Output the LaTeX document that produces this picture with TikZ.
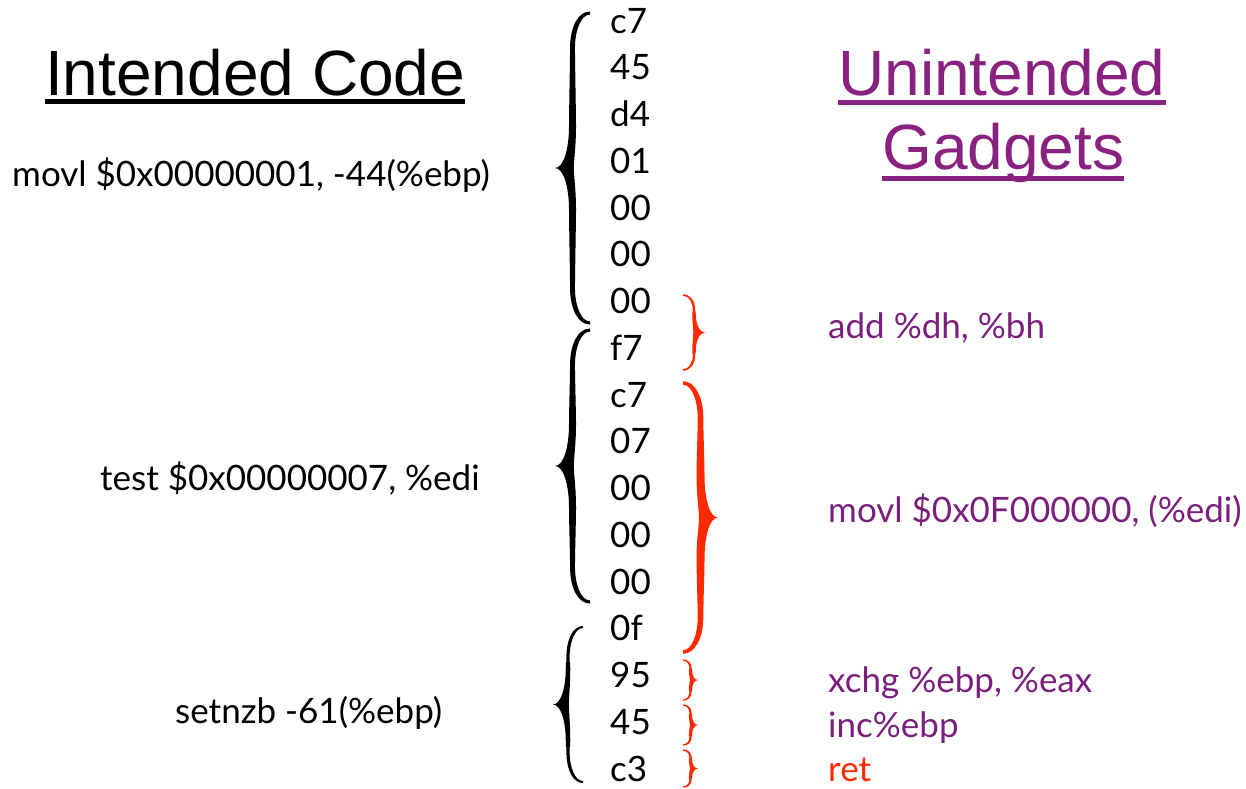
\documentclass[tikz,border=0pt]{standalone}
\usepackage{fontspec}
\setmainfont{Lato}
\newfontfamily\titlefont{Liberation Sans}
\usetikzlibrary{calc}
\definecolor{gadget}{HTML}{7A1F7E}
\definecolor{gadgettitle}{HTML}{88217F}
\definecolor{retred}{HTML}{FF2A00}
% A tapered curly brace "}" hanging from its top end:
% #1 height, #2 amplitude (tip distance), #3 stem thickness
\tikzset{
  pics/tbrace/.style n args={3}{code={
    \pgfmathsetmacro\bh{#1}\pgfmathsetmacro\ba{#2}\pgfmathsetmacro\bt{#3}
    \pgfmathsetmacro\bm{\bh/2}
    \pgfmathsetmacro\bs{\ba/2}
    \pgfmathsetmacro\br{min(1.0*\ba,\bh/5)}
    \pgfmathsetmacro\bq{min(1.2*\ba,\bh/4)}
    \pgfmathsetmacro\be{0.22*\bt}
    \pgfmathsetmacro\bi{0.35*\bt}
    \pgfmathsetmacro\bo{0.5*\bt}
    \pgfmathsetmacro\bb{0.3*\bt}
    \fill (0,-\be) .. controls (0.6*\bs+0.6*\bi,-\be) and (\bs+\bi,0.4*\br) .. (\bs+\bi,\br)
      .. controls (\bs+\bi,\br+0.3*\bq) and (\bs+\bo,\bm-1.3*\bq) .. (\bs+\bo,\bm-\bq)
      .. controls (\bs+\bo,\bm-0.45*\bq) and (\ba-0.55*\bs+0.3*\bo,\bm) .. (\ba,\bm)
      .. controls (\ba-0.55*\bs+0.3*\bo,\bm) and (\bs+\bo,\bm+0.45*\bq) .. (\bs+\bo,\bm+\bq)
      .. controls (\bs+\bo,\bm+1.3*\bq) and (\bs+\bi,\bh-\br-0.3*\bq) .. (\bs+\bi,\bh-\br)
      .. controls (\bs+\bi,\bh-0.4*\br) and (0.6*\bs+0.6*\bi,\bh+\be) .. (0,\bh+\be)
      -- (0,\bh-\be)
      .. controls (0.6*\bs-0.6*\bi,\bh-\be) and (\bs-\bi,\bh-0.5*\br) .. (\bs-\bi,\bh-\br)
      .. controls (\bs-\bi,\bh-\br-0.3*\bq) and (\bs-\bo,\bm+1.3*\bq) .. (\bs-\bo,\bm+\bq)
      .. controls (\bs-\bo,\bm+0.5*\bq) and (\bs-\bo+\bb,\bm+0.25*\bq) .. (\bs-\bo+\bb,\bm)
      .. controls (\bs-\bo+\bb,\bm-0.25*\bq) and (\bs-\bo,\bm-0.5*\bq) .. (\bs-\bo,\bm-\bq)
      .. controls (\bs-\bo,\bm-1.3*\bq) and (\bs-\bi,\br+0.3*\bq) .. (\bs-\bi,\br)
      .. controls (\bs-\bi,0.5*\br) and (0.6*\bs-0.6*\bi,\be) .. (0,\be)
      -- cycle;
  }}
}
\begin{document}
\begin{tikzpicture}[x=1pt,y=-1pt,
  txt/.style={anchor=base west, inner sep=0pt, font=\fontsize{35}{40}\selectfont},
  byte/.style={txt},
  asm/.style={txt},
  gad/.style={txt, text=gadget},
  heading/.style={anchor=base west, inner sep=0pt, font=\titlefont\fontsize{64}{72}\selectfont},
  ul/.style={line width=5pt},
]
\useasboundingbox (0,0) rectangle (1246,788);

% headings
\node[heading] (h1) at (45,95) {Intended Code};
\node[heading, text=gadgettitle] (h2) at (838,95) {Unintended};
\node[heading, text=gadgettitle] (h3) at (882,169) {Gadgets};
\draw[ul] ($(h1.base west)+(0,6)$) -- ($(h1.base east)+(0,6)$);
\draw[ul, gadgettitle] ($(h2.base west)+(0,7)$) -- ($(h2.base east)+(0,7)$);
\draw[ul, gadgettitle] ($(h3.base west)+(0,9)$) -- ($(h3.base east)+(0,9)$);

% byte column
\foreach \b [count=\i from 0] in {c7,45,d4,01,00,00,00,f7,c7,07,00,00,00,0f,95,45,c3}
  \node[byte] (b\i) at (610,33+46.75*\i) {\b};

% intended instructions
\node[asm] (i1) at (12,186) {movl \$0x00000001, -44(\%ebp)};
\node[asm] (i2) at (100,490) {test \$0x00000007, \%edi};
\node[asm] (i3) at (175,723) {setnzb -61(\%ebp)};

% unintended gadgets
\node[gad] (g1) at (828,338) {add \%dh, \%bh};
\node[gad] (g2) at (828,522) {movl \$0x0F000000, (\%edi)};
\node[gad] (g3) at (828,692) {xchg \%ebp, \%eax};
\node[gad] (g4) at (828,737) {inc\%ebp};
\node[gad, text=retred] (g5) at (828,781) {ret};

% instruction braces (mirrored, opening towards the bytes)
\pic[xscale=-1] (l1) at (590,13)  {tbrace={310}{35}{7}};
\pic[xscale=-1] (l2) at (590,330) {tbrace={272}{35}{7}};
\pic[xscale=-1] (l3) at (583,627) {tbrace={155}{30}{4.5}};

% gadget braces
\pic[retred] (r1) at (683,295) {tbrace={75}{22}{3.5}};
\pic[retred] (r2) at (683,383) {tbrace={269}{35}{8}};
\pic[retred] (r3) at (683,660) {tbrace={40}{15}{3.2}};
\pic[retred] (r4) at (683,705) {tbrace={40}{15}{3.2}};
\pic[retred] (r5) at (683,750) {tbrace={37}{15}{3.2}};
\end{tikzpicture}
\end{document}
